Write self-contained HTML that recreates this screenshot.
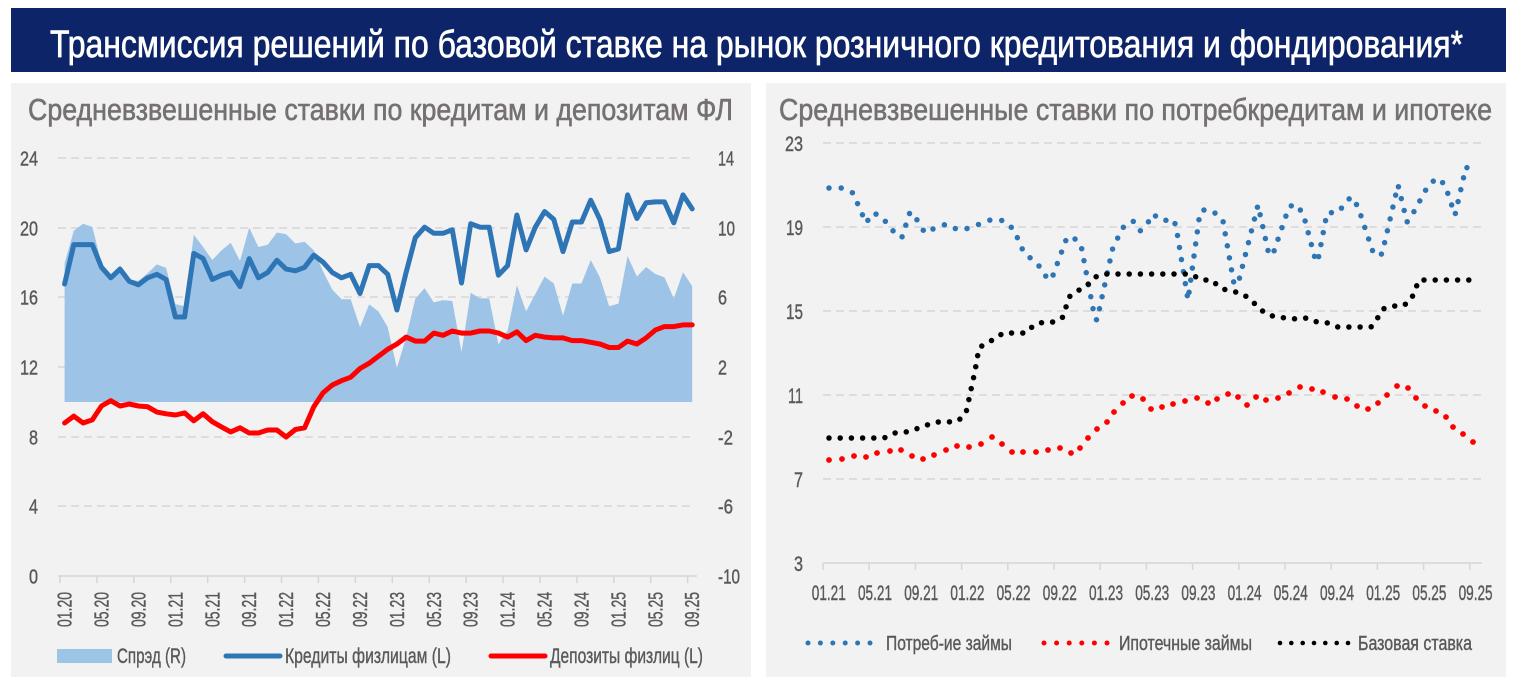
<!DOCTYPE html>
<html><head><meta charset="utf-8"><style>
html,body{margin:0;padding:0;background:#fff;}
svg{display:block;}
text{font-family:"Liberation Sans Narrow","Liberation Sans",sans-serif;}
</style></head><body>
<svg width="1515" height="684" viewBox="0 0 1515 684" xmlns="http://www.w3.org/2000/svg">
<rect x="0" y="0" width="1515" height="684" fill="#fff"/>
<rect x="11" y="8" width="1495" height="64" fill="#0d2468"/>
<text x="50" y="57" font-size="38" fill="#fff" stroke="#fff" stroke-width="0.7" textLength="1413" lengthAdjust="spacingAndGlyphs">Трансмиссия решений по базовой ставке на рынок розничного кредитования и фондирования*</text>

<rect x="11" y="83" width="740" height="594" fill="#f2f2f2"/>
<rect x="766" y="83" width="740" height="594" fill="#f2f2f2"/>
<text x="28" y="120" font-size="31" fill="#767171" stroke="#767171" stroke-width="0.6" textLength="705" lengthAdjust="spacingAndGlyphs">Средневзвешенные ставки по кредитам и депозитам ФЛ</text>
<text x="779" y="120" font-size="31" fill="#767171" stroke="#767171" stroke-width="0.6" textLength="713" lengthAdjust="spacingAndGlyphs">Средневзвешенные ставки по потребкредитам и ипотеке</text>

<!-- LEFT CHART -->
<g stroke="#d6d6d6" stroke-width="1.5" stroke-dasharray="8 5" fill="none">
<line x1="58" y1="158" x2="692" y2="158"/>
<line x1="58" y1="228" x2="692" y2="228"/>
<line x1="58" y1="297" x2="692" y2="297"/>
<line x1="58" y1="367" x2="692" y2="367"/>
<line x1="58" y1="437" x2="692" y2="437"/>
<line x1="58" y1="506" x2="692" y2="506"/>
</g>
<polygon fill="#9dc3e6" points="64.6,402 64.6,263.2 73.8,230.8 83.1,223.8 92.3,226.9 101.5,263.5 110.8,279.2 120.0,265.3 129.2,279.4 138.4,280.9 147.7,273.1 156.9,264.4 166.1,267.9 175.4,304.1 184.6,306.2 193.8,234.8 203.1,247.0 212.3,260.0 221.5,250.4 230.7,242.8 240.0,260.9 249.2,227.8 258.4,247.0 267.7,244.7 276.9,232.5 286.1,234.2 295.4,243.5 304.6,241.7 313.8,250.4 323.0,271.3 332.3,289.6 341.5,299.2 350.7,299.2 360.0,327.1 369.2,304.4 378.4,311.4 387.7,327.1 396.9,368.0 406.1,337.5 415.3,298.7 424.6,288.2 433.8,302.4 443.0,300.1 452.3,301.0 461.5,352.0 470.7,292.8 480.0,298.4 489.2,298.4 498.4,344.2 507.6,330.6 516.9,285.3 526.1,311.4 535.3,294.0 544.6,276.6 553.8,283.5 563.0,315.8 572.3,283.5 581.5,283.5 590.7,260.0 599.9,277.4 609.2,306.2 618.4,303.6 627.6,256.0 636.9,276.6 646.1,267.0 655.3,274.0 664.5,277.4 673.8,298.4 683.0,272.2 692.2,286.2 692.2,402"/>
<polyline fill="none" stroke="#2e75b6" stroke-width="5" stroke-linejoin="round" stroke-linecap="round" points="64.6,284.0 73.8,244.6 83.1,244.6 92.3,244.6 101.5,267.3 110.8,277.8 120.0,269.1 129.2,281.3 138.4,284.8 147.7,277.8 156.9,274.3 166.1,279.5 175.4,317.0 184.6,317.0 193.8,253.4 203.1,258.6 212.3,279.5 221.5,275.2 230.7,272.5 240.0,286.5 249.2,258.6 258.4,277.8 267.7,272.5 276.9,260.3 286.1,269.1 295.4,270.8 304.6,267.3 313.8,255.1 323.0,262.1 332.3,272.5 341.5,277.8 350.7,274.3 360.0,293.5 369.2,265.6 378.4,265.6 387.7,274.3 396.9,310.0 406.1,272.5 415.3,237.7 424.6,227.2 433.8,233.3 443.0,233.3 452.3,229.8 461.5,283.0 470.7,223.7 480.0,227.2 489.2,227.2 498.4,275.2 507.6,265.6 516.9,215.0 526.1,249.9 535.3,227.2 544.6,211.5 553.8,219.4 563.0,251.6 572.3,222.0 581.5,222.0 590.7,200.2 599.9,219.4 609.2,251.6 618.4,249.0 627.6,194.9 636.9,218.5 646.1,202.8 655.3,201.9 664.5,201.9 673.8,222.8 683.0,194.9 692.2,208.9"/>
<polyline fill="none" stroke="#ff0000" stroke-width="5" stroke-linejoin="round" stroke-linecap="round" points="64.6,423.0 73.8,416.1 83.1,423.0 92.3,419.9 101.5,406.0 110.8,400.7 120.0,406.0 129.2,404.0 138.4,406.0 147.7,406.8 156.9,412.1 166.1,413.8 175.4,415.0 184.6,412.9 193.8,420.8 203.1,413.8 212.3,421.7 221.5,426.9 230.7,431.9 240.0,427.8 249.2,433.0 258.4,433.0 267.7,430.0 276.9,430.0 286.1,437.0 295.4,429.5 304.6,427.8 313.8,406.8 323.0,392.9 332.3,385.0 341.5,380.7 350.7,377.2 360.0,368.5 369.2,363.2 378.4,356.3 387.7,349.3 396.9,344.0 406.1,337.1 415.3,341.1 424.6,341.1 433.8,333.1 443.0,335.3 452.3,331.0 461.5,333.1 470.7,333.1 480.0,331.0 489.2,331.0 498.4,333.1 507.6,337.1 516.9,331.8 526.1,340.6 535.3,335.3 544.6,337.1 553.8,337.9 563.0,337.9 572.3,340.6 581.5,340.6 590.7,342.3 599.9,344.0 609.2,347.5 618.4,347.5 627.6,341.1 636.9,344.0 646.1,337.9 655.3,330.1 664.5,326.6 673.8,326.6 683.0,324.9 692.2,324.9"/>
<line x1="58" y1="576" x2="697" y2="576" stroke="#d6d6d6" stroke-width="1.5"/>
<g stroke="#d6d6d6" stroke-width="1.5">
<line x1="60" y1="576" x2="60" y2="583"/><line x1="96.9" y1="576" x2="96.9" y2="583"/><line x1="133.8" y1="576" x2="133.8" y2="583"/><line x1="170.8" y1="576" x2="170.8" y2="583"/><line x1="207.7" y1="576" x2="207.7" y2="583"/><line x1="244.6" y1="576" x2="244.6" y2="583"/><line x1="281.5" y1="576" x2="281.5" y2="583"/><line x1="318.4" y1="576" x2="318.4" y2="583"/><line x1="355.4" y1="576" x2="355.4" y2="583"/><line x1="392.3" y1="576" x2="392.3" y2="583"/><line x1="429.2" y1="576" x2="429.2" y2="583"/><line x1="466.1" y1="576" x2="466.1" y2="583"/><line x1="503" y1="576" x2="503" y2="583"/><line x1="540" y1="576" x2="540" y2="583"/><line x1="576.9" y1="576" x2="576.9" y2="583"/><line x1="613.8" y1="576" x2="613.8" y2="583"/><line x1="650.7" y1="576" x2="650.7" y2="583"/><line x1="687.6" y1="576" x2="687.6" y2="583"/>
</g>
<g font-size="20" fill="#595959" stroke="#595959" stroke-width="0.4" text-anchor="end">
<text x="38" y="165.5" textLength="18" lengthAdjust="spacingAndGlyphs">24</text>
<text x="38" y="235.5" textLength="18" lengthAdjust="spacingAndGlyphs">20</text>
<text x="38" y="304.5" textLength="18" lengthAdjust="spacingAndGlyphs">16</text>
<text x="38" y="374.5" textLength="18" lengthAdjust="spacingAndGlyphs">12</text>
<text x="38" y="444.5" textLength="9" lengthAdjust="spacingAndGlyphs">8</text>
<text x="38" y="513.5" textLength="9" lengthAdjust="spacingAndGlyphs">4</text>
<text x="38" y="583.5" textLength="9" lengthAdjust="spacingAndGlyphs">0</text>
</g>
<g font-size="20" fill="#595959" stroke="#595959" stroke-width="0.4">
<text x="718" y="165.5" textLength="16" lengthAdjust="spacingAndGlyphs">14</text>
<text x="718" y="235.5" textLength="17" lengthAdjust="spacingAndGlyphs">10</text>
<text x="718" y="304.5" textLength="9" lengthAdjust="spacingAndGlyphs">6</text>
<text x="718" y="374.5" textLength="9" lengthAdjust="spacingAndGlyphs">2</text>
<text x="718" y="444.5" textLength="15" lengthAdjust="spacingAndGlyphs">-2</text>
<text x="718" y="513.5" textLength="15" lengthAdjust="spacingAndGlyphs">-6</text>
<text x="718" y="583.5" textLength="22" lengthAdjust="spacingAndGlyphs">-10</text>
</g>
<g font-size="20" fill="#595959" stroke="#595959" stroke-width="0.4" text-anchor="end">
<text transform="translate(71.6,592) rotate(-90)" textLength="35" lengthAdjust="spacingAndGlyphs">01.20</text>
<text transform="translate(108.5,592) rotate(-90)" textLength="35" lengthAdjust="spacingAndGlyphs">05.20</text>
<text transform="translate(145.4,592) rotate(-90)" textLength="35" lengthAdjust="spacingAndGlyphs">09.20</text>
<text transform="translate(182.4,592) rotate(-90)" textLength="35" lengthAdjust="spacingAndGlyphs">01.21</text>
<text transform="translate(219.3,592) rotate(-90)" textLength="35" lengthAdjust="spacingAndGlyphs">05.21</text>
<text transform="translate(256.2,592) rotate(-90)" textLength="35" lengthAdjust="spacingAndGlyphs">09.21</text>
<text transform="translate(293.1,592) rotate(-90)" textLength="35" lengthAdjust="spacingAndGlyphs">01.22</text>
<text transform="translate(330,592) rotate(-90)" textLength="35" lengthAdjust="spacingAndGlyphs">05.22</text>
<text transform="translate(367,592) rotate(-90)" textLength="35" lengthAdjust="spacingAndGlyphs">09.22</text>
<text transform="translate(403.9,592) rotate(-90)" textLength="35" lengthAdjust="spacingAndGlyphs">01.23</text>
<text transform="translate(440.8,592) rotate(-90)" textLength="35" lengthAdjust="spacingAndGlyphs">05.23</text>
<text transform="translate(477.7,592) rotate(-90)" textLength="35" lengthAdjust="spacingAndGlyphs">09.23</text>
<text transform="translate(514.6,592) rotate(-90)" textLength="35" lengthAdjust="spacingAndGlyphs">01.24</text>
<text transform="translate(551.6,592) rotate(-90)" textLength="35" lengthAdjust="spacingAndGlyphs">05.24</text>
<text transform="translate(588.5,592) rotate(-90)" textLength="35" lengthAdjust="spacingAndGlyphs">09.24</text>
<text transform="translate(625.4,592) rotate(-90)" textLength="35" lengthAdjust="spacingAndGlyphs">01.25</text>
<text transform="translate(662.3,592) rotate(-90)" textLength="35" lengthAdjust="spacingAndGlyphs">05.25</text>
<text transform="translate(699.2,592) rotate(-90)" textLength="35" lengthAdjust="spacingAndGlyphs">09.25</text>
</g>
<!-- left legend -->
<rect x="57" y="649" width="55" height="14" fill="#9dc3e6"/>
<g font-size="21" fill="#595959" stroke="#595959" stroke-width="0.4">
<text x="117" y="663" textLength="69" lengthAdjust="spacingAndGlyphs">Спрэд (R)</text>
<text x="285" y="663" textLength="166" lengthAdjust="spacingAndGlyphs">Кредиты физлицам (L)</text>
<text x="550" y="663" textLength="153" lengthAdjust="spacingAndGlyphs">Депозиты физлиц (L)</text>
</g>
<line x1="226" y1="656" x2="280" y2="656" stroke="#2e75b6" stroke-width="5" stroke-linecap="round"/>
<line x1="491" y1="656" x2="545" y2="656" stroke="#ff0000" stroke-width="5" stroke-linecap="round"/>

<!-- RIGHT CHART -->
<g stroke="#d6d6d6" stroke-width="1.5" stroke-dasharray="8 5" fill="none">
<line x1="823" y1="143" x2="1483" y2="143"/>
<line x1="823" y1="227" x2="1483" y2="227"/>
<line x1="823" y1="311" x2="1483" y2="311"/>
<line x1="823" y1="395" x2="1483" y2="395"/>
<line x1="823" y1="479" x2="1483" y2="479"/>
</g>
<line x1="823" y1="563" x2="1482" y2="563" stroke="#d6d6d6" stroke-width="1.5"/>
<g stroke="#d6d6d6" stroke-width="1.5">
<line x1="823" y1="563" x2="823" y2="570"/><line x1="869.2" y1="563" x2="869.2" y2="570"/><line x1="915.4" y1="563" x2="915.4" y2="570"/><line x1="961.6" y1="563" x2="961.6" y2="570"/><line x1="1007.8" y1="563" x2="1007.8" y2="570"/><line x1="1054" y1="563" x2="1054" y2="570"/><line x1="1100.2" y1="563" x2="1100.2" y2="570"/><line x1="1146.4" y1="563" x2="1146.4" y2="570"/><line x1="1192.6" y1="563" x2="1192.6" y2="570"/><line x1="1238.8" y1="563" x2="1238.8" y2="570"/><line x1="1285" y1="563" x2="1285" y2="570"/><line x1="1331.2" y1="563" x2="1331.2" y2="570"/><line x1="1377.4" y1="563" x2="1377.4" y2="570"/><line x1="1423.6" y1="563" x2="1423.6" y2="570"/><line x1="1469.8" y1="563" x2="1469.8" y2="570"/>
</g>
<g font-size="21" fill="#595959" stroke="#595959" stroke-width="0.4" text-anchor="end">
<text x="803" y="151" textLength="18" lengthAdjust="spacingAndGlyphs">23</text>
<text x="803" y="235" textLength="17" lengthAdjust="spacingAndGlyphs">19</text>
<text x="803" y="319" textLength="17" lengthAdjust="spacingAndGlyphs">15</text>
<text x="803" y="403" textLength="15" lengthAdjust="spacingAndGlyphs">11</text>
<text x="803" y="487" textLength="9" lengthAdjust="spacingAndGlyphs">7</text>
<text x="803" y="571" textLength="9" lengthAdjust="spacingAndGlyphs">3</text>
</g>
<g font-size="21" fill="#595959" stroke="#595959" stroke-width="0.4" text-anchor="middle">
<text x="828.8" y="600" textLength="34" lengthAdjust="spacingAndGlyphs">01.21</text>
<text x="875" y="600" textLength="34" lengthAdjust="spacingAndGlyphs">05.21</text>
<text x="921.2" y="600" textLength="34" lengthAdjust="spacingAndGlyphs">09.21</text>
<text x="967.4" y="600" textLength="34" lengthAdjust="spacingAndGlyphs">01.22</text>
<text x="1013.6" y="600" textLength="34" lengthAdjust="spacingAndGlyphs">05.22</text>
<text x="1059.8" y="600" textLength="34" lengthAdjust="spacingAndGlyphs">09.22</text>
<text x="1106" y="600" textLength="34" lengthAdjust="spacingAndGlyphs">01.23</text>
<text x="1152.2" y="600" textLength="34" lengthAdjust="spacingAndGlyphs">05.23</text>
<text x="1198.4" y="600" textLength="34" lengthAdjust="spacingAndGlyphs">09.23</text>
<text x="1244.6" y="600" textLength="34" lengthAdjust="spacingAndGlyphs">01.24</text>
<text x="1290.8" y="600" textLength="34" lengthAdjust="spacingAndGlyphs">05.24</text>
<text x="1337" y="600" textLength="34" lengthAdjust="spacingAndGlyphs">09.24</text>
<text x="1383.2" y="600" textLength="34" lengthAdjust="spacingAndGlyphs">01.25</text>
<text x="1429.4" y="600" textLength="34" lengthAdjust="spacingAndGlyphs">05.25</text>
<text x="1475.6" y="600" textLength="34" lengthAdjust="spacingAndGlyphs">09.25</text>
</g>
<polyline fill="none" stroke="#2e75b6" stroke-width="5.5" stroke-linecap="round" stroke-linejoin="round" stroke-dasharray="0 12.2" points="829,188 842,188 853,193 866,223 873,213 881,216 890,227 898,237 902,237 910,212 914,215 925,233 937,227 947,224 958,230 970,228 982,223 993,219 1005,221 1014,230 1024,253 1033,260 1041,268 1048,280 1052,278 1066,240 1072,236 1081,245 1095,319 1097,320 1113,247 1124,226 1133,221 1140,231 1146,226 1153,214 1162,221 1173,219 1176,226 1188,300 1200,212 1206,209 1217,214 1223,221 1234,284 1238,284 1258,205 1269,255 1273,254 1289,207 1295,204 1303,213 1316,262 1318,260 1327,213 1339,212 1346,201 1352,197 1358,207 1374,255 1382,254 1398,185 1407,222 1411,217 1429,184 1438,178 1445,185 1455,215 1466,167 1476,174"/>
<polyline fill="none" stroke="#000" stroke-width="5.5" stroke-linecap="round" stroke-linejoin="round" stroke-dasharray="0 11.2" points="829,438 884,438 895,433 906,432 916,429 927,425 937,422 948,422 958,421 966,413 975,371 979,348 986,343 995,339 1003,333 1026,333 1034,325 1044,322 1055,322 1063,317 1066,307 1070,296 1077,291 1086,287 1093,278 1103,274 1191,274 1201,280 1212,280 1220,288 1230,291 1241,293 1250,299 1258,307 1266,314 1276,317 1297,319 1307,318 1317,322 1328,323 1338,327 1371,327 1377,319 1383,309 1392,306 1403,306 1411,300 1415,290 1419,280 1476,280"/>
<g fill="#ff0000">
<circle cx="829" cy="460" r="2.9"/><circle cx="842" cy="459" r="2.9"/><circle cx="854" cy="456" r="2.9"/><circle cx="866" cy="457" r="2.9"/><circle cx="877" cy="453" r="2.9"/><circle cx="890" cy="451" r="2.9"/><circle cx="901" cy="450" r="2.9"/><circle cx="912" cy="456" r="2.9"/><circle cx="923" cy="459" r="2.9"/><circle cx="934" cy="455" r="2.9"/><circle cx="946" cy="450" r="2.9"/><circle cx="957" cy="446" r="2.9"/><circle cx="969" cy="447" r="2.9"/><circle cx="981" cy="444" r="2.9"/><circle cx="992" cy="437" r="2.9"/><circle cx="1002" cy="444" r="2.9"/><circle cx="1012" cy="452" r="2.9"/><circle cx="1023" cy="452" r="2.9"/><circle cx="1036" cy="452" r="2.9"/><circle cx="1048" cy="450" r="2.9"/><circle cx="1060" cy="448" r="2.9"/><circle cx="1071" cy="453" r="2.9"/><circle cx="1080" cy="448" r="2.9"/><circle cx="1088" cy="438" r="2.9"/><circle cx="1097" cy="429" r="2.9"/><circle cx="1107" cy="422" r="2.9"/><circle cx="1114" cy="412" r="2.9"/><circle cx="1123" cy="403" r="2.9"/><circle cx="1132" cy="396" r="2.9"/><circle cx="1143" cy="399" r="2.9"/><circle cx="1151" cy="409" r="2.9"/><circle cx="1162" cy="407" r="2.9"/><circle cx="1173" cy="404" r="2.9"/><circle cx="1185" cy="401" r="2.9"/><circle cx="1197" cy="398" r="2.9"/><circle cx="1208" cy="403" r="2.9"/><circle cx="1217" cy="399" r="2.9"/><circle cx="1228" cy="394" r="2.9"/><circle cx="1238" cy="397" r="2.9"/><circle cx="1247" cy="405" r="2.9"/><circle cx="1256" cy="397" r="2.9"/><circle cx="1266" cy="400" r="2.9"/><circle cx="1278" cy="398" r="2.9"/><circle cx="1289" cy="393" r="2.9"/><circle cx="1300" cy="387" r="2.9"/><circle cx="1312" cy="389" r="2.9"/><circle cx="1323" cy="392" r="2.9"/><circle cx="1335" cy="397" r="2.9"/><circle cx="1347" cy="399" r="2.9"/><circle cx="1357" cy="406" r="2.9"/><circle cx="1368" cy="409" r="2.9"/><circle cx="1378" cy="403" r="2.9"/><circle cx="1387" cy="395" r="2.9"/><circle cx="1397" cy="386" r="2.9"/><circle cx="1408" cy="388" r="2.9"/><circle cx="1416" cy="398" r="2.9"/><circle cx="1425" cy="406" r="2.9"/><circle cx="1436" cy="411" r="2.9"/><circle cx="1446" cy="417" r="2.9"/><circle cx="1453" cy="427" r="2.9"/><circle cx="1463" cy="434" r="2.9"/><circle cx="1473" cy="442" r="2.9"/>
</g>
<!-- right legend -->
<g fill="#2e75b6">
<circle cx="808" cy="643" r="2.5"/><circle cx="820.4" cy="643" r="2.5"/><circle cx="832.8" cy="643" r="2.5"/><circle cx="845.2" cy="643" r="2.5"/><circle cx="857.6" cy="643" r="2.5"/><circle cx="870" cy="643" r="2.5"/>
</g>
<g fill="#ff0000">
<circle cx="1044" cy="643" r="2.5"/><circle cx="1056.6" cy="643" r="2.5"/><circle cx="1069.2" cy="643" r="2.5"/><circle cx="1081.8" cy="643" r="2.5"/><circle cx="1094.4" cy="643" r="2.5"/><circle cx="1107" cy="643" r="2.5"/>
</g>
<g fill="#000">
<circle cx="1280" cy="643" r="2.3"/><circle cx="1291.3" cy="643" r="2.3"/><circle cx="1302.7" cy="643" r="2.3"/><circle cx="1314" cy="643" r="2.3"/><circle cx="1325.3" cy="643" r="2.3"/><circle cx="1336.7" cy="643" r="2.3"/><circle cx="1348" cy="643" r="2.3"/>
</g>
<g font-size="20" fill="#595959" stroke="#595959" stroke-width="0.4">
<text x="886" y="650" textLength="126" lengthAdjust="spacingAndGlyphs">Потреб-ие займы</text>
<text x="1119" y="650" textLength="133" lengthAdjust="spacingAndGlyphs">Ипотечные займы</text>
<text x="1358" y="650" textLength="114" lengthAdjust="spacingAndGlyphs">Базовая ставка</text>
</g>
</svg>
</body></html>
